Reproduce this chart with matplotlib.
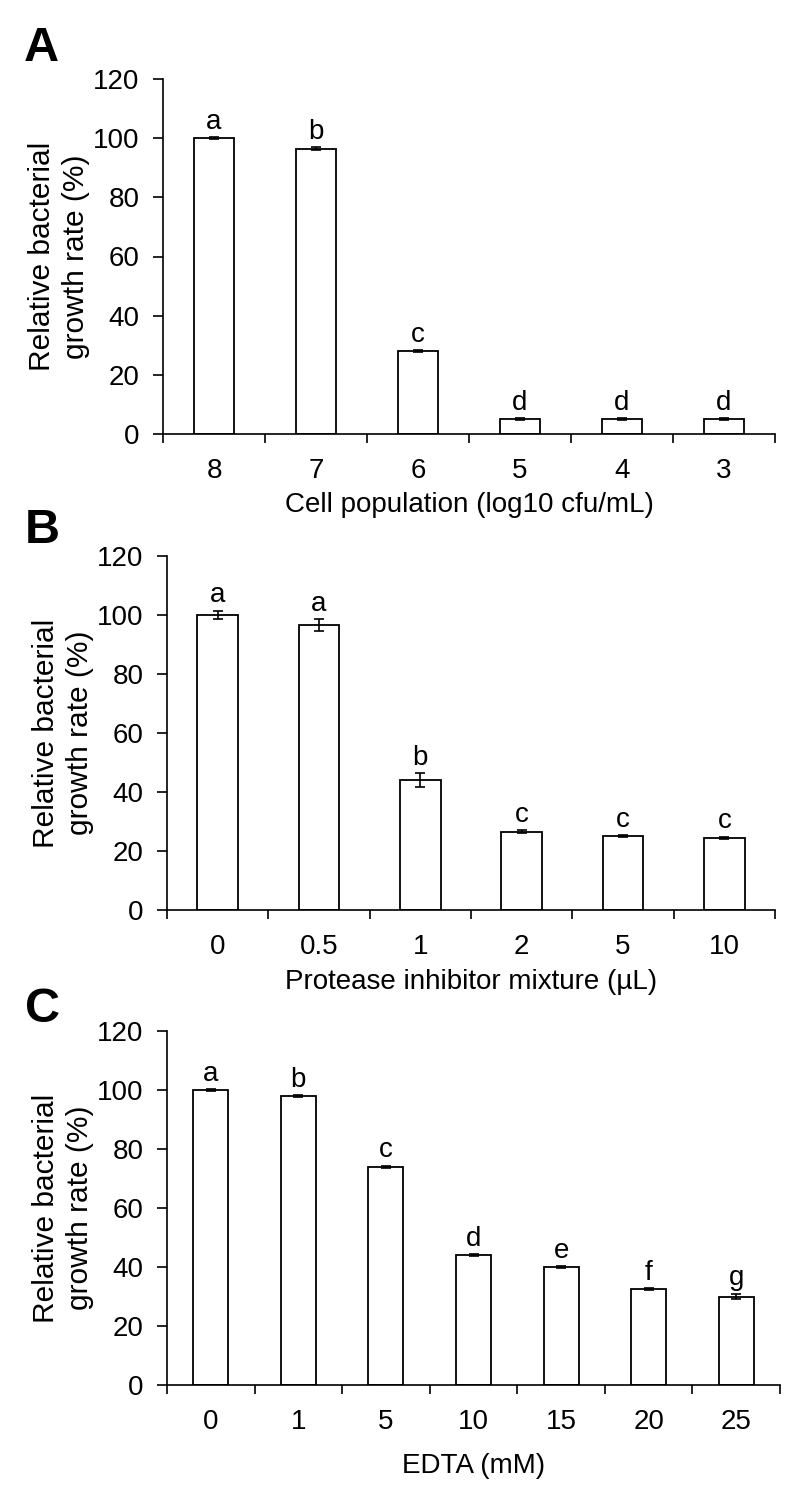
import numpy as np
import matplotlib
matplotlib.use('Agg')
import matplotlib.pyplot as plt
from matplotlib.ticker import FixedLocator

plt.rcParams['font.family'] = ['Liberation Sans', 'DejaVu Sans']

# panel A
cells = ['8', '7', '6', '5', '4', '3']
cells_mean = [100, 96.5, 28, 5, 5, 5]
cells_err = [0.4, 0.4, 0.4, 0.3, 0.3, 0.3]
cells_sig = ['a', 'b', 'c', 'd', 'd', 'd']

# panel B
prot = ['0', '0.5', '1', '2', '5', '10']
prot_mean = [100, 96.5, 44, 26.5, 25, 24.5]
prot_err = [1.5, 2.0, 2.3, 0.5, 0.4, 0.4]
prot_sig = ['a', 'a', 'b', 'c', 'c', 'c']

# panel C
edta = ['0', '1', '5', '10', '15', '20', '25']
edta_mean = [100, 98, 74, 44, 40, 32.5, 30]
edta_err = [0.3, 0.3, 0.3, 0.3, 0.3, 0.4, 1.0]
edta_sig = ['a', 'b', 'c', 'd', 'e', 'f', 'g']

W, H = 788, 1494
fig = plt.figure(figsize=(W / 100, H / 100), dpi=100)

def bar_panel(rect, labels, mean, err, sig, xlabel, xpad, letter, letter_pos):
    ax = fig.add_axes(rect)
    x = np.arange(len(labels))
    ax.bar(x, mean, width=0.4, color='white', edgecolor='black', linewidth=1.3,
           yerr=err, capsize=3.5, error_kw=dict(elinewidth=1.2, capthick=1.2, ecolor='black'))
    for xi, m, e, s in zip(x, mean, err, sig):
        ax.annotate(s, (xi, m + e), xytext=(0, 6), textcoords='offset points',
                    ha='center', va='baseline', fontsize=20)
    ax.set_xlim(-0.5, len(labels) - 0.5)
    ax.set_ylim(0, 120)
    ax.set_yticks(np.arange(0, 121, 20))
    ax.set_xticks(x)
    ax.set_xticklabels(labels)
    ax.xaxis.set_minor_locator(FixedLocator(np.arange(len(labels) + 1) - 0.5))
    ax.tick_params(axis='x', which='major', length=0, pad=17, labelsize=20)
    ax.tick_params(axis='x', which='minor', length=6.5, width=1.2, direction='out')
    ax.tick_params(axis='y', length=7, width=1.2, pad=10, labelsize=20)
    for sp in ['top', 'right']:
        ax.spines[sp].set_visible(False)
    for sp in ['left', 'bottom']:
        ax.spines[sp].set_linewidth(1.2)
    ax.set_xlabel(xlabel, fontsize=20, labelpad=xpad)
    ax.set_ylabel('Relative bacterial\ngrowth rate (%)', fontsize=21.5, labelpad=2,
                  linespacing=1.3)
    fig.text(letter_pos[0], letter_pos[1], letter, fontsize=35, fontweight='bold',
             ha='left', va='top')
    return ax

bar_panel([163 / W, 1 - 434 / H, 612 / W, 355 / H], cells, cells_mean, cells_err, cells_sig,
          'Cell population (log10 cfu/mL)', 6, 'A', (24 / W, 1 - 26 / H))
bar_panel([167 / W, 1 - 910 / H, 608 / W, 354 / H], prot, prot_mean, prot_err, prot_sig,
          'Protease inhibitor mixture (\u00b5L)', 7, 'B', (25 / W, 1 - 508 / H))
bar_panel([167 / W, 1 - 1385 / H, 613 / W, 354 / H], edta, edta_mean, edta_err, edta_sig,
          'EDTA (mM)', 13, 'C', (25 / W, 1 - 987 / H))

plt.savefig('out.png', dpi=100)
